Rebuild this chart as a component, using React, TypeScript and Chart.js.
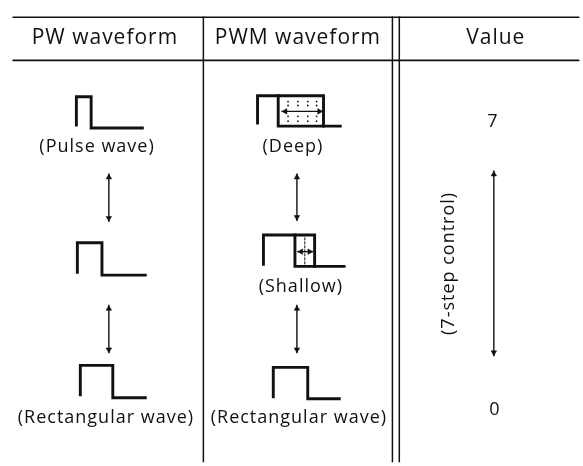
import { useEffect, useRef } from "react";
import { Chart, registerables } from "chart.js";

Chart.register(...registerables);

type P = [number, number];

// Diagram space: x 0..583, y 0..466 (downwards)
const headerLabels = ["PW waveform", "PWM waveform", "Value"];
const headerX = [102, 298, 499];
const headerY = 34;

const tableRows: P[][] = [
  [[9, 13], [583, 13]],
  [[9, 57], [583, 57]],
];
const tableCols: P[][] = [
  [[202, 13], [202, 466]],
  [[394, 13], [394, 466]],
  [[401, 13], [401, 466]],
];

const pwWaves: P[][] = [
  [[73, 123], [73, 94], [88, 94], [88, 126], [140, 126]],
  [[74, 273], [74, 243], [99, 243], [99, 276], [143, 276]],
  [[77, 398], [77, 368], [110, 368], [110, 401], [143, 401]],
];

const pwmWaves: P[][] = [
  [[257, 121], [257, 93], [324, 93], [324, 124]],
  [[278, 93], [278, 124], [341, 124]],
  [[263, 265], [263, 235], [315, 235], [315, 267]],
  [[295, 235], [295, 267], [345, 267]],
  [[273, 400], [273, 370], [308, 370], [308, 402], [340, 402]],
];

const deepDotCols = [288, 298, 308, 317];
const deepDotRows = [99, 103, 114, 119];
const shallowDash: P[] = [[305, 238], [305, 265]];

const arrows: P[][] = [
  [[106, 173], [106, 221]],
  [[106, 307], [106, 355]],
  [[297, 173], [297, 220]],
  [[297, 307], [297, 355]],
  [[497, 170], [497, 358]],
  [[282, 109], [323, 109]],
  [[298, 252], [313, 252]],
];

const captionTexts = [
  "(Pulse wave)",
  "(Deep)",
  "(Shallow)",
  "(Rectangular wave)",
  "(Rectangular wave)",
  "7",
  "0",
];
const captionX = [94, 293, 301, 103, 299, 496, 498];
const captionY = [145, 145, 288, 422, 422, 120, 413];

const sideText = "(7-step control)";
const sideX = 451;
const sideY = 264;

const INK = "#111111";
const FONT = "'Open Sans', 'DejaVu Sans', sans-serif";

const toXY = (pts: P[]) => pts.map(([x, y]) => ({ x, y }));

export default function App() {
  const ref = useRef<HTMLCanvasElement | null>(null);

  useEffect(() => {
    if (!ref.current) return;

    const lineSet = (pts: P[], width: number, dash: number[] = []) => ({
      data: toXY(pts),
      showLine: true,
      borderColor: INK,
      borderWidth: width,
      borderDash: dash,
      borderCapStyle: "square" as const,
      borderJoinStyle: "miter" as const,
      pointRadius: 0,
      pointHoverRadius: 0,
      fill: false,
      tension: 0,
      clip: false as const,
    });

    const datasets: any[] = [];
    tableRows.forEach((r) => datasets.push(lineSet(r, 1.7)));
    tableCols.forEach((c) => datasets.push(lineSet(c, 1.5)));
    pwWaves.forEach((w) => datasets.push(lineSet(w, 2.9)));
    pwmWaves.forEach((w) => datasets.push(lineSet(w, 2.9)));
    datasets.push(lineSet(shallowDash, 1, [2, 2]));
    arrows.forEach((a) => datasets.push(lineSet(a, 1.4)));

    // dots of the deep PWM region
    const dots: { x: number; y: number }[] = [];
    deepDotCols.forEach((x) => deepDotRows.forEach((y) => dots.push({ x, y })));
    datasets.push({
      data: dots,
      showLine: false,
      pointRadius: 0.9,
      pointBackgroundColor: INK,
      pointBorderWidth: 0,
      clip: false,
    });

    // arrowheads
    const r = 3.2;
    const heads: { x: number; y: number }[] = [];
    const rots: number[] = [];
    arrows.forEach(([a, b]) => {
      const dx = b[0] - a[0];
      const dy = b[1] - a[1];
      const len = Math.hypot(dx, dy);
      const ux = dx / len;
      const uy = dy / len;
      heads.push({ x: a[0] + ux * r, y: a[1] + uy * r });
      rots.push((Math.atan2(-ux, uy) * 180) / Math.PI);
      heads.push({ x: b[0] - ux * r, y: b[1] - uy * r });
      rots.push((Math.atan2(ux, -uy) * 180) / Math.PI);
    });
    datasets.push({
      data: heads,
      showLine: false,
      pointStyle: "triangle",
      pointRadius: r,
      pointRotation: rots,
      pointBackgroundColor: INK,
      pointBorderColor: INK,
      pointBorderWidth: 0.5,
      clip: false,
    });

    const textPlugin = {
      id: "diagramText",
      afterDatasetsDraw(chart: any) {
        const { ctx, scales } = chart;
        const px = (v: number) => scales.x.getPixelForValue(v);
        const py = (v: number) => scales.y.getPixelForValue(v);
        ctx.save();
        ctx.fillStyle = INK;
        ctx.textAlign = "center";
        ctx.textBaseline = "middle";
        (ctx as any).letterSpacing = "1px";
        ctx.font = `21px ${FONT}`;
        headerLabels.forEach((t, i) => ctx.fillText(t, px(headerX[i]), py(headerY)));
        ctx.font = `18px ${FONT}`;
        captionTexts.forEach((t, i) => ctx.fillText(t, px(captionX[i]), py(captionY[i])));
        ctx.translate(px(sideX), py(sideY));
        ctx.rotate(-Math.PI / 2);
        ctx.fillText(sideText, 0, 0);
        ctx.restore();
      },
    };

    const chart = new Chart(ref.current, {
      type: "scatter",
      data: { datasets },
      options: {
        animation: false,
        responsive: false,
        maintainAspectRatio: false,
        events: [],
        layout: { padding: 0 },
        plugins: {
          legend: { display: false },
          tooltip: { enabled: false },
          title: { display: false },
        },
        scales: {
          x: { type: "linear", min: 0, max: 583, display: false },
          y: { type: "linear", min: 0, max: 466, reverse: true, display: false },
        },
      },
      plugins: [textPlugin],
    });
    return () => chart.destroy();
  }, []);

  return (
    <div
      style={{
        position: "absolute",
        left: 0,
        top: 0,
        width: 583,
        height: 466,
        background: "#ffffff",
      }}
    >
      <canvas ref={ref} width={583} height={466} style={{ display: "block" }} />
    </div>
  );
}
